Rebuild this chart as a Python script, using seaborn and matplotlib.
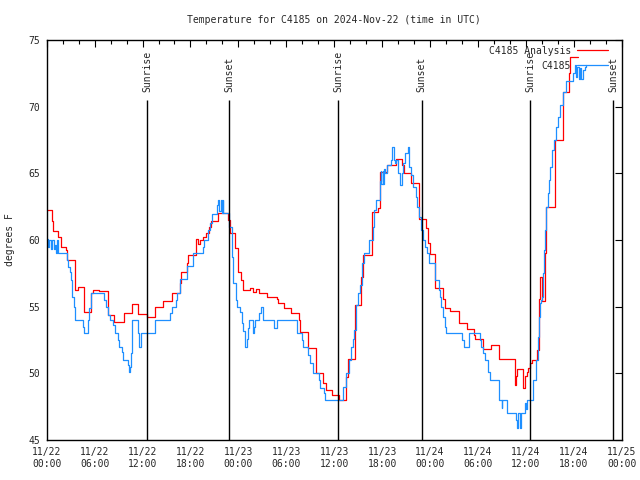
import numpy as np
import pandas as pd
import matplotlib
matplotlib.use("Agg")
import matplotlib.pyplot as plt
import matplotlib.dates as mdates
import seaborn as sns

# hours after 2024-11-22 00:00 UTC where the value changes (step plot)
analysis_hours = [0, 0.63, 0.83, 1.45, 1.75, 2.37, 2.58, 3.6, 3.96, 4.67,
                  5.5, 5.75, 6.58, 7.63, 8.46, 9.65, 10.71, 11.47, 12.6, 13.6,
                  14.6, 15.64, 16.68, 16.76, 17.52, 17.72, 18.68, 18.9, 19.19, 19.52,
                  19.94, 20.36, 20.56, 21.48, 22.73, 22.94, 23.6, 24.0, 24.32, 24.61,
                  25.44, 25.86, 26.15, 26.61, 27.61, 28.78, 28.99, 29.66, 30.57, 31.58,
                  31.7, 32.66, 33.66, 34.62, 34.92, 35.67, 36.59, 37.54, 37.75, 38.55,
                  39.38, 39.6, 40.76, 41.51, 41.71, 42.63, 43.8, 44.55, 44.76, 45.59,
                  46.59, 47.55, 47.76, 47.97, 48.56, 48.68, 49.64, 49.85, 50.56, 51.64,
                  52.64, 53.48, 53.61, 54.65, 55.61, 56.61, 58.61, 58.74, 58.9, 59.66,
                  59.87, 60.08, 60.28, 60.58, 60.79, 61.41, 61.66, 61.83, 62.08, 62.37,
                  62.5, 63.6, 64.62, 65.45, 65.55, 66.55]
analysis_temps = [62.25, 61.4, 60.67, 60.25, 59.5, 59.25, 58.5, 56.25, 56.5, 54.6,
                  56.0, 56.25, 56.2, 54.4, 53.85, 54.5, 55.2, 54.45, 54.2, 55.0,
                  55.4, 56.0, 56.75, 57.6, 58.25, 58.9, 60.05, 59.7, 60.0, 60.25,
                  60.5, 61.0, 61.4, 62.0, 61.5, 60.5, 59.4, 57.6, 57.0, 56.25,
                  56.4, 56.1, 56.35, 56.05, 55.75, 55.55, 55.3, 54.9, 54.55, 54.0,
                  53.1, 51.9, 50.0, 49.25, 48.75, 48.4, 48.0, 49.75, 51.05, 55.1,
                  57.25, 58.9, 62.1, 62.4, 65.1, 65.6, 66.05, 65.6, 65.0, 64.25,
                  61.6, 60.9, 59.75, 58.95, 57.6, 56.4, 55.6, 54.9, 54.7, 53.75,
                  53.3, 52.9, 52.55, 51.8, 52.1, 51.05, 49.1, 49.8, 50.3, 48.9,
                  49.8, 50.1, 50.4, 50.75, 51.0, 51.75, 55.6, 57.25, 55.4, 59.0,
                  62.5, 67.5, 71.1, 72.5, 73.75, 73.75]

obs_hours = [0, 0.2, 0.35, 0.5, 0.7, 0.9, 1.05, 1.15, 1.3, 1.45,
             2.5, 2.71, 2.92, 3.04, 3.21, 3.38, 3.54, 4.58, 4.71, 5.21,
             5.34, 5.5, 7.21, 7.42, 7.71, 7.92, 8.34, 8.55, 8.88, 9.05,
             9.38, 9.59, 10.13, 10.3, 10.43, 10.55, 10.72, 11.38, 11.59, 11.8,
             13.55, 15.5, 15.64, 16.18, 16.35, 16.68, 17.6, 18.35, 19.52, 19.69,
             20.23, 20.44, 20.65, 21.27, 21.48, 21.61, 21.77, 21.9, 22.02, 22.11,
             22.86, 23.15, 23.36, 23.69, 23.86, 24.2, 24.49, 24.61, 24.82, 25.11,
             25.24, 25.36, 25.86, 25.99, 26.07, 26.6, 26.78, 27.11, 28.49, 28.78,
             31.33, 31.91, 32.04, 32.75, 32.96, 33.38, 34.09, 34.21, 34.71, 34.83,
             37.13, 37.46, 37.84, 38.05, 38.38, 38.5, 38.67, 39.0, 39.29, 39.42,
             39.71, 40.38, 40.8, 40.97, 41.18, 41.71, 41.82, 41.92, 42.05, 42.13,
             42.25, 42.34, 42.63, 43.09, 43.3, 43.47, 43.59, 43.72, 44.01, 44.22,
             44.43, 44.64, 44.85, 45.26, 45.39, 45.6, 45.89, 46.22, 46.43, 46.64,
             46.81, 47.06, 47.35, 47.56, 47.89, 48.6, 49.1, 49.22, 49.43, 49.64,
             49.85, 49.98, 52.06, 52.27, 52.9, 54.23, 54.44, 54.65, 54.86, 55.28,
             55.57, 56.66, 56.95, 57.07, 57.66, 58.82, 58.9, 59.07, 59.24, 59.45,
             59.87, 60.0, 60.16, 60.91, 61.24, 61.53, 61.66, 61.83, 61.95, 62.08,
             62.16, 62.29, 62.45, 62.58, 62.79, 62.91, 63.08, 63.29, 63.54, 63.83,
             64.04, 64.25, 64.67, 65.0, 65.84, 66.13, 66.34, 66.46, 66.63, 66.76,
             66.96, 67.17, 67.38, 67.59]
obs_temps = [60.05, 59.5, 60.0, 59.3, 60.0, 59.3, 59.6, 59.0, 60.0, 59.0,
             58.5, 58.0, 57.6, 57.0, 55.75, 55.0, 54.0, 53.5, 53.0, 54.0,
             54.9, 56.0, 55.5, 55.0, 54.4, 54.0, 53.6, 53.0, 52.5, 52.0,
             51.6, 51.0, 50.6, 50.1, 50.5, 51.5, 54.0, 53.0, 52.0, 53.0,
             54.0, 54.5, 55.0, 55.5, 56.0, 57.1, 58.05, 59.0, 59.5, 60.0,
             60.75, 61.25, 61.95, 62.6, 63.0, 62.2, 63.0, 62.0, 63.0, 62.0,
             61.0, 58.75, 56.75, 55.5, 55.0, 54.6, 53.75, 53.2, 52.0, 52.6,
             53.4, 54.0, 53.0, 53.5, 54.0, 54.5, 55.0, 54.0, 53.4, 54.0,
             53.0, 52.5, 52.0, 51.4, 50.75, 50.0, 49.5, 48.9, 48.5, 48.0,
             49.0, 50.0, 51.0, 52.0, 52.6, 53.25, 55.1, 56.0, 56.6, 58.25,
             59.0, 60.0, 61.0, 62.25, 63.0, 64.4, 65.2, 64.2, 65.2, 64.2,
             65.3, 65.0, 65.6, 66.0, 67.0, 66.0, 65.75, 66.0, 65.0, 64.1,
             65.0, 65.75, 66.5, 67.0, 65.5, 64.9, 64.0, 63.25, 62.5, 61.75,
             60.75, 60.0, 59.5, 59.0, 58.25, 57.0, 56.25, 55.75, 55.0, 54.25,
             53.5, 53.0, 52.5, 52.0, 53.0, 52.5, 52.0, 51.5, 51.0, 50.1,
             49.5, 48.0, 47.4, 48.0, 47.0, 46.5, 45.9, 47.0, 45.9, 47.0,
             47.75, 47.3, 48.0, 49.5, 51.0, 52.75, 54.25, 55.25, 55.5, 55.75,
             57.5, 59.25, 60.75, 62.5, 63.5, 64.5, 65.5, 66.75, 67.5, 68.5,
             69.25, 70.1, 71.1, 71.9, 72.5, 73.1, 72.25, 73.0, 72.1, 72.9,
             72.1, 72.75, 73.0, 73.1]

sun_times = ["2024-11-22 12:35", "2024-11-22 22:51", "2024-11-23 12:30",
             "2024-11-23 22:56", "2024-11-24 12:32", "2024-11-24 22:54"]
sun_labels = ["Sunrise", "Sunset", "Sunrise", "Sunset", "Sunrise", "Sunset"]

start = pd.Timestamp("2024-11-22 00:00")
analysis = pd.DataFrame({"time": start + pd.to_timedelta(analysis_hours, unit="h"),
                         "temp": analysis_temps})
obs = pd.DataFrame({"time": start + pd.to_timedelta(obs_hours, unit="h"),
                    "temp": obs_temps})

sns.set_style("white")
plt.rcParams["font.family"] = ["DejaVu Sans Mono"]
fs = 7

fig = plt.figure(figsize=(6.4, 4.8), dpi=100)
ax = fig.add_axes([46.7 / 640, 40 / 480, 575 / 640, 400 / 480])

sns.lineplot(data=analysis, x="time", y="temp", ax=ax, color="#ff0000",
             lw=0.9, drawstyle="steps-post", label="C4185 Analysis",
             estimator=None, sort=False)
sns.lineplot(data=obs, x="time", y="temp", ax=ax, color="#1e8fff",
             lw=0.9, drawstyle="steps-post", label="C4185",
             estimator=None, sort=False)

for t, lab in zip(sun_times, sun_labels):
    t = pd.Timestamp(t)
    ax.vlines(t, 45, 70.5, color="black", lw=1.0)
    ax.text(t, 71.1, lab, rotation=90, ha="center", va="bottom", fontsize=fs)

ax.set_xlim(start, pd.Timestamp("2024-11-25 00:00"))
ax.set_ylim(45, 75)
ax.set_yticks(np.arange(45, 76, 5))
ax.xaxis.set_major_locator(mdates.HourLocator(byhour=[0, 6, 12, 18]))
ax.xaxis.set_minor_locator(mdates.HourLocator(interval=2))
ax.xaxis.set_major_formatter(mdates.DateFormatter("%m/%d\n%H:%M"))
ax.tick_params(which="both", direction="in", top=True, right=True,
               labelsize=fs, color="black", pad=5)
ax.tick_params(which="major", length=5, width=0.8)
ax.tick_params(which="minor", length=3, width=0.8)
for s in ax.spines.values():
    s.set_color("black")
    s.set_linewidth(1.0)

ax.set_xlabel("")
ax.set_ylabel("")
fig.text(10 / 640, 0.5, "degrees F", rotation=90, ha="center", va="center",
         fontsize=fs)
fig.text(334 / 640, 1 - 20 / 480, "Temperature for C4185 on 2024-Nov-22 (time in UTC)",
         ha="center", va="center", fontsize=fs)

leg = ax.legend(loc="upper right", bbox_to_anchor=(1 - 7 / 575, 1 + 1 / 400),
                frameon=False, markerfirst=False,
                fontsize=fs, handlelength=3.2, handletextpad=0.6,
                borderaxespad=0.3, labelspacing=0.5)
for txt in leg.get_texts():
    txt.set_ha("right")

fig.savefig("out.png", dpi=100)
